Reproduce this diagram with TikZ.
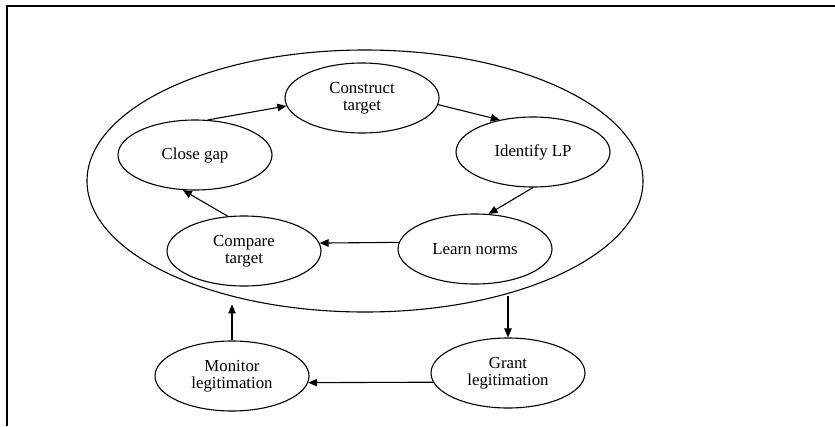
\documentclass[tikz,border=0pt]{standalone}
\usepackage{fontspec}
\setmainfont{Liberation Serif}
\usetikzlibrary{shapes.geometric,arrows.meta}

\tikzset{
  stage/.style={draw, ellipse, line width=1.1pt, inner sep=0pt,
    minimum width=154pt, minimum height=70pt, align=center,
    font=\fontsize{16.8}{17.5}\selectfont},
  cycle/.style={draw, ellipse, line width=1.1pt, inner sep=0pt,
    minimum width=556pt, minimum height=262pt},
  flow/.style={line width=1.1pt, -{Triangle[length=9pt,width=7.5pt]}},
  frame/.style={line width=1.8pt}
}

\begin{document}
\begin{tikzpicture}[x=1pt,y=-1pt]
  \useasboundingbox (0,0) rectangle (835,426);

  % open frame along the top and left
  \coordinate (ftl) at (7,6);
  \coordinate (ftr) at (835,6);
  \coordinate (fbl) at (7,426);
  \draw[frame] (ftr) -- (ftl) -- (fbl);

  % learning cycle
  \node[cycle] (outer) at (365,181) {};

  \node[stage] (construct) at (362,98)  {Construct\\target};
  \node[stage] (identify)  at (533,152) {Identify LP};
  \node[stage] (learn)     at (475,249) {Learn norms};
  \node[stage] (compare)   at (244,251) {Compare\\target};
  \node[stage] (close)     at (195,155) {Close gap};

  % legitimation loop
  \node[stage] (grant)   at (508,373) {Grant\\legitimation};
  \node[stage] (monitor) at (232,376) {Monitor\\legitimation};

  \draw[flow] (close.70)      -- (construct.186);
  \draw[flow] (construct.-5)  -- (identify.136);
  \draw[flow] (identify.south)-- (learn.69);
  \draw[flow] (learn.175)     -- (compare.6);
  \draw[flow] (compare.115)   -- (close.-109);

  \draw[flow] (outer.-40 -| grant.north) -- (grant.north);
  \draw[flow] (grant.187) -- (monitor.-5);
  \draw[flow] (monitor.north) -- (outer.-128 -| monitor.north);
\end{tikzpicture}
\end{document}
